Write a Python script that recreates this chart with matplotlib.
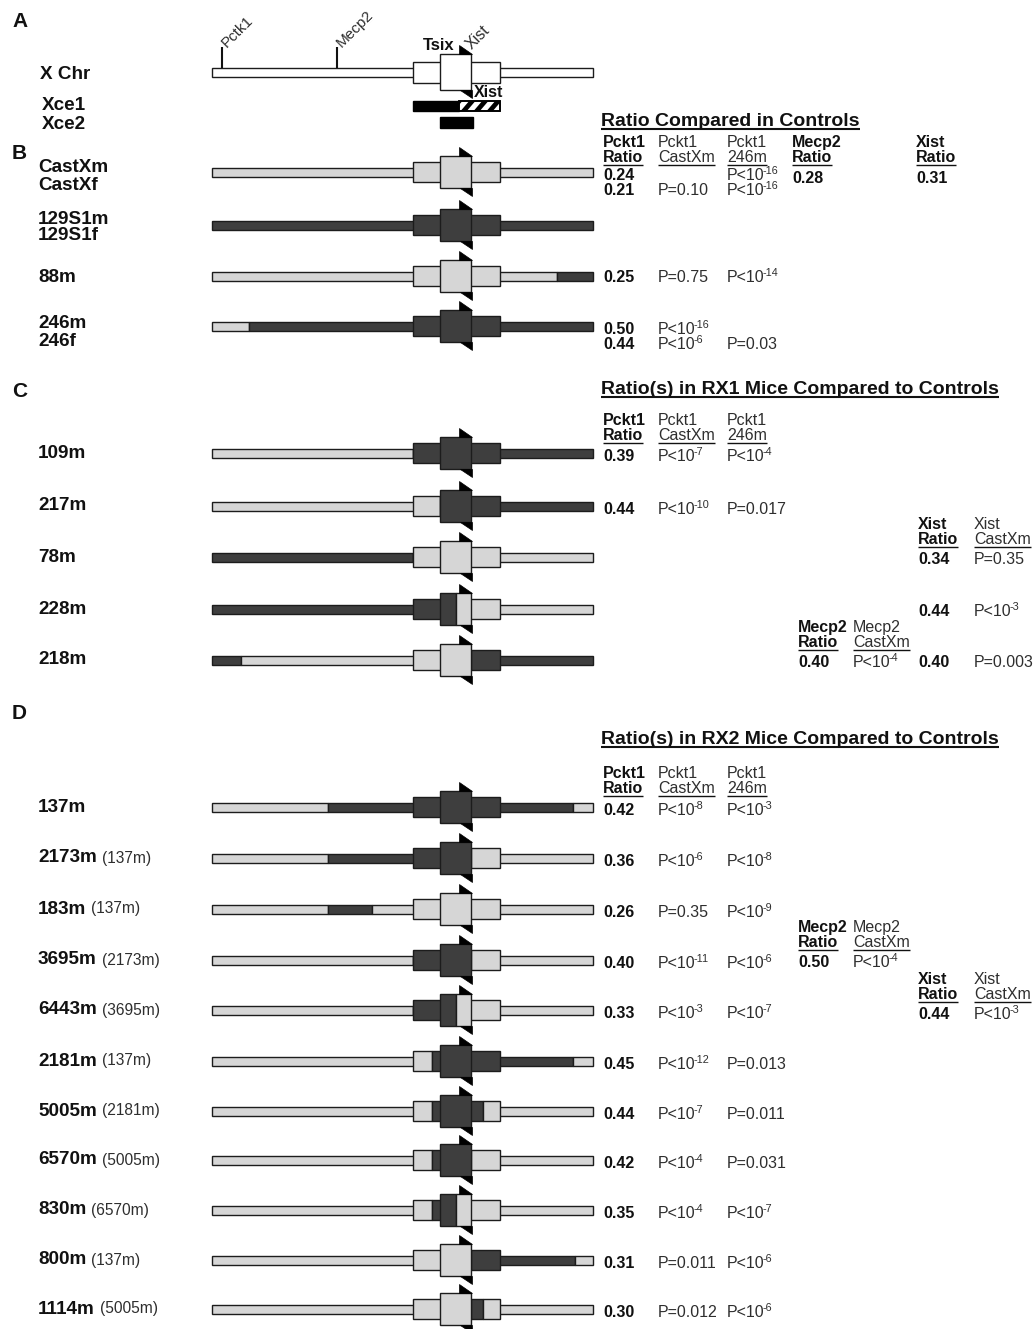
import matplotlib.pyplot as plt
from matplotlib.patches import Rectangle, Polygon

plt.rcParams['font.family'] = ['Liberation Sans', 'DejaVu Sans']

LIGHT = '#d6d6d6'   # Cast haplotype
DARK = '#3e3e3e'    # 129 haplotype
EDGE = '#1c1c1c'
INK = '#111111'
GREY = '#2e2e2e'
FILL = {'c': LIGHT, 'd': DARK, 'w': 'white'}

# chromosome drawn from x=212, positions below are offsets along it
X0 = 212
CHR_LEN = 381
OUTER = (201, 288)
INNER = (228, 259)

# ---- panel A ----
genes_a = ["Pctk1", "Mecp2"]
gene_pos = [10, 125]
xce1_solid = (201, 247)
xce1_hatched = (247, 288)
xce2_solid = (228, 261)

# ---- panel B: controls ----
ctrl_lines = [["CastXm", "CastXf"], ["129S1m", "129S1f"], ["88m"], ["246m", "246f"]]
ctrl_haplo = [
    [(381, 'c')],
    [(381, 'd')],
    [(345, 'c'), (381, 'd')],
    [(37, 'c'), (381, 'd')],
]
ctrl_pckt1_ratio = [["0.24", "0.21"], [], ["0.25"], ["0.50", "0.44"]]
ctrl_pckt1_cast = [["", "P=0.10"], [], ["P=0.75"], ["P<10^-16", "P<10^-6"]]
ctrl_pckt1_246 = [["P<10^-16", "P<10^-16"], [], ["P<10^-14"], ["", "P=0.03"]]
ctrl_mecp2_ratio = ["0.28", "", "", ""]
ctrl_xist_ratio = ["0.31", "", "", ""]

# ---- panel C: RX1 ----
rx1_names = ["109m", "217m", "78m", "228m", "218m"]
rx1_haplo = [
    [(201, 'c'), (381, 'd')],
    [(228, 'c'), (381, 'd')],
    [(201, 'd'), (381, 'c')],
    [(244, 'd'), (381, 'c')],
    [(29, 'd'), (259, 'c'), (381, 'd')],
]
rx1_pckt1_ratio = ["0.39", "0.44", "", "", ""]
rx1_pckt1_cast = ["P<10^-7", "P<10^-10", "", "", ""]
rx1_pckt1_246 = ["P<10^-4", "P=0.017", "", "", ""]
rx1_mecp2_ratio = ["", "", "", "", "0.40"]
rx1_mecp2_cast = ["", "", "", "", "P<10^-4"]
rx1_xist_ratio = ["", "", "0.34", "0.44", "0.40"]
rx1_xist_cast = ["", "", "P=0.35", "P<10^-3", "P=0.003"]

# ---- panel D: RX2 ----
rx2_names = ["137m", "2173m", "183m", "3695m", "6443m", "2181m",
             "5005m", "6570m", "830m", "800m", "1114m"]
rx2_parents = ["", "137m", "137m", "2173m", "3695m", "137m",
               "2181m", "5005m", "6570m", "137m", "5005m"]
rx2_haplo = [
    [(116, 'c'), (361, 'd'), (381, 'c')],
    [(116, 'c'), (259, 'd'), (381, 'c')],
    [(116, 'c'), (160, 'd'), (381, 'c')],
    [(201, 'c'), (259, 'd'), (381, 'c')],
    [(201, 'c'), (244, 'd'), (381, 'c')],
    [(220, 'c'), (361, 'd'), (381, 'c')],
    [(220, 'c'), (271, 'd'), (381, 'c')],
    [(220, 'c'), (259, 'd'), (381, 'c')],
    [(220, 'c'), (244, 'd'), (381, 'c')],
    [(259, 'c'), (363, 'd'), (381, 'c')],
    [(259, 'c'), (271, 'd'), (381, 'c')],
]
rx2_pckt1_ratio = ["0.42", "0.36", "0.26", "0.40", "0.33", "0.45",
                   "0.44", "0.42", "0.35", "0.31", "0.30"]
rx2_pckt1_cast = ["P<10^-8", "P<10^-6", "P=0.35", "P<10^-11", "P<10^-3", "P<10^-12",
                  "P<10^-7", "P<10^-4", "P<10^-4", "P=0.011", "P=0.012"]
rx2_pckt1_246 = ["P<10^-3", "P<10^-8", "P<10^-9", "P<10^-6", "P<10^-7", "P=0.013",
                 "P=0.011", "P=0.031", "P<10^-7", "P<10^-6", "P<10^-6"]
rx2_mecp2_ratio = ["", "", "", "0.50", "", "", "", "", "", "", ""]
rx2_mecp2_cast = ["", "", "", "P<10^-4", "", "", "", "", "", "", ""]
rx2_xist_ratio = ["", "", "", "", "0.44", "", "", "", "", "", ""]
rx2_xist_cast = ["", "", "", "", "P<10^-3", "", "", "", "", "", ""]

# row positions
ctrl_y = [172, 225, 276, 326]
ctrl_line_dy = [[-5, 14], [-5, 10], [1], [-2, 15]]
rx1_y = [453, 506, 557, 609, 660]
rx2_y = [807, 858, 909, 960, 1010, 1061, 1111, 1160, 1210, 1260, 1309]

fig = plt.figure(figsize=(10.34, 13.29), dpi=100)
ax = fig.add_axes([0, 0, 1, 1])
ax.set_xlim(0, 1034)
ax.set_ylim(1329, 0)
ax.axis('off')

TS = 11.5      # table text size
LS = 13.6      # row label size
underlined = []


def txt(x, y, s, size=TS, bold=False, ul=False, color=None, **kw):
    kw.setdefault('va', 'baseline')
    t = ax.text(x, y, s, fontsize=size, fontweight='bold' if bold else 'normal',
                color=color or (INK if bold else GREY), ha='left', **kw)
    if ul:
        underlined.append((t, y, 1.0 if size < 13 else 1.5))
    return t


def pval(x, y, s):
    # "P<10^-7" -> base text plus a small raised exponent
    if '^' not in s:
        return txt(x, y, s)
    base, exp = s.split('^')
    t = txt(x, y, base)
    ax.annotate(exp, xy=(1, 1), xycoords=t, xytext=(-1.2, 1.2),
                textcoords='offset points', va='top', ha='left',
                fontsize=7.8, color=GREY)
    return t


def draw_chrom(y, runs, bar_h=4.5, outer_h=10, inner_h=16):
    shapes = [((0, CHR_LEN), bar_h, 2), (OUTER, outer_h, 3), (INNER, inner_h, 4)]
    for (s0, s1), hh, z in shapes:
        start = 0
        for end, key in runs:
            a, b = max(start, s0), min(end, s1)
            if b > a:
                ax.add_patch(Rectangle((X0 + a, y - hh), b - a, 2 * hh, fc=FILL[key],
                                       ec=EDGE, lw=1.0, zorder=z))
            start = end
    xr = X0 + INNER[1]
    top, bot = y - inner_h, y + inner_h
    ax.add_patch(Polygon([(xr - 12, top - 9), (xr - 12, top), (xr + 1, top)],
                         closed=True, fc='black', ec='black', lw=0.5, zorder=5))
    ax.add_patch(Polygon([(xr - 11, bot), (xr + 1, bot), (xr + 1, bot + 8)],
                         closed=True, fc='black', ec='black', lw=0.5, zorder=5))


# panel letters
for letter, ly in zip("ABCD", [27, 159, 397, 719]):
    txt(12, ly, letter, size=15, bold=True)

# ---- A: X chromosome map ----
draw_chrom(72, [(CHR_LEN, 'w')], outer_h=10.5, inner_h=18)
for g, p in zip(genes_a, gene_pos):
    ax.plot([X0 + p, X0 + p], [67.5, 47], color=INK, lw=1.5, solid_capstyle='butt')
    ax.text(X0 + p + 5, 48, g, rotation=45, rotation_mode='anchor', ha='left',
            va='baseline', fontsize=11, color=GREY)
txt(423, 50, "Tsix", size=12, bold=True)
ax.text(472, 50, "Xist", rotation=45, rotation_mode='anchor', ha='left',
        va='baseline', fontsize=11.5, color=GREY)
txt(474, 97, "Xist", size=11.5, bold=True)

# Xce1: solid part then a striped part
ax.add_patch(Rectangle((X0 + xce1_solid[0], 101), xce1_solid[1] - xce1_solid[0], 10,
                       fc='black', ec='black', lw=1.0))
box = Rectangle((X0 + xce1_hatched[0], 101), xce1_hatched[1] - xce1_hatched[0], 10,
                fc='white', ec='black', lw=1.2, zorder=3)
ax.add_patch(box)
for sx in range(X0 + xce1_hatched[0] - 10, X0 + xce1_hatched[1] + 4, 13):
    ln, = ax.plot([sx, sx + 12], [113, 99], color='black', lw=3.4, zorder=3.5)
    ln.set_clip_path(box)
ax.add_patch(Rectangle((X0 + xce1_hatched[0], 101), xce1_hatched[1] - xce1_hatched[0], 10,
                       fc='none', ec='black', lw=1.2, zorder=4))
ax.add_patch(Rectangle((X0 + xce2_solid[0], 117), xce2_solid[1] - xce2_solid[0], 11,
                       fc='black', ec='black', lw=1.0))

txt(40, 79, "X Chr", size=LS, bold=True)
txt(42, 110, "Xce1", size=LS, bold=True)
txt(42, 129, "Xce2", size=LS, bold=True)

# column positions of the ratio tables
XP_R, XP_C, XP_246 = 603, 658, 727
XM_R, XM_C = 798, 853
XX_R, XX_C = 918, 974


def header(x, y, gene, sub, bold):
    txt(x, y, gene, bold=bold)
    txt(x, y + 15, sub, bold=bold, ul=True)


def pckt1_header(y):
    header(XP_R, y, "Pckt1", "Ratio", True)
    header(XP_C, y, "Pckt1", "CastXm", False)
    header(XP_246, y, "Pckt1", "246m", False)


# ---- B: controls ----
txt(601, 126, "Ratio Compared in Controls", size=14, bold=True, ul=True)
pckt1_header(147)
header(792, 147, "Mecp2", "Ratio", True)
header(916, 147, "Xist", "Ratio", True)

for i, y in enumerate(ctrl_y):
    draw_chrom(y, ctrl_haplo[i])
    for name, dy in zip(ctrl_lines[i], ctrl_line_dy[i]):
        txt(38, y + dy, name, size=LS, bold=True, va='center')
    n = len(ctrl_pckt1_ratio[i])
    for k in range(n):
        yb = y + (6 if n == 1 else 8 + 15 * k)
        txt(XP_R, yb, ctrl_pckt1_ratio[i][k], bold=True)
        pval(XP_C, yb, ctrl_pckt1_cast[i][k])
        pval(XP_246, yb, ctrl_pckt1_246[i][k])
    txt(792, y + 11, ctrl_mecp2_ratio[i], bold=True)
    txt(916, y + 11, ctrl_xist_ratio[i], bold=True)


def mouse_rows(ys, names, haplos, parents=None):
    for i, y in enumerate(ys):
        draw_chrom(y, haplos[i])
        lab = txt(38, y, names[i], size=LS, bold=True, va='center')
        if parents and parents[i]:
            ax.annotate("(" + parents[i] + ")", xy=(1, 0.5), xycoords=lab,
                        xytext=(3.5, 0), textcoords='offset points', va='center',
                        fontsize=11.2, color=GREY)


def ratio_cols(ys, x_r, x_p, ratios, pvals, gene, dy=7):
    first = True
    for y, r, p in zip(ys, ratios, pvals):
        if not r:
            continue
        if first:
            header(x_r, y + dy - 35, gene, "Ratio", True)
            header(x_p, y + dy - 35, gene, "CastXm", False)
            first = False
        txt(x_r, y + dy, r, bold=True)
        pval(x_p, y + dy, p)


# ---- C: RX1 ----
txt(601, 394, "Ratio(s) in RX1 Mice Compared to Controls", size=14, bold=True, ul=True)
mouse_rows(rx1_y, rx1_names, rx1_haplo)
pckt1_header(425)
for y, r, pc, p2 in zip(rx1_y, rx1_pckt1_ratio, rx1_pckt1_cast, rx1_pckt1_246):
    if r:
        txt(XP_R, y + 8, r, bold=True)
        pval(XP_C, y + 8, pc)
        pval(XP_246, y + 8, p2)
ratio_cols(rx1_y, XM_R, XM_C, rx1_mecp2_ratio, rx1_mecp2_cast, "Mecp2")
ratio_cols(rx1_y, XX_R, XX_C, rx1_xist_ratio, rx1_xist_cast, "Xist")

# ---- D: RX2 ----
txt(601, 744, "Ratio(s) in RX2 Mice Compared to Controls", size=14, bold=True, ul=True)
mouse_rows(rx2_y, rx2_names, rx2_haplo, rx2_parents)
pckt1_header(778)
for y, r, pc, p2 in zip(rx2_y, rx2_pckt1_ratio, rx2_pckt1_cast, rx2_pckt1_246):
    txt(XP_R, y + 8, r, bold=True)
    pval(XP_C, y + 8, pc)
    pval(XP_246, y + 8, p2)
ratio_cols(rx2_y, XM_R, XM_C, rx2_mecp2_ratio, rx2_mecp2_cast, "Mecp2")
ratio_cols(rx2_y, XX_R, XX_C, rx2_xist_ratio, rx2_xist_cast, "Xist", dy=9)

# underline headers now that text extents are known
fig.canvas.draw()
inv = ax.transData.inverted()
for t, yb, lw in underlined:
    bb = t.get_window_extent()
    xa = inv.transform((bb.x0, bb.y0))[0]
    xb = inv.transform((bb.x1, bb.y0))[0]
    ax.plot([xa, xb], [yb + 2.5, yb + 2.5], color=INK, lw=lw, solid_capstyle='butt')

fig.savefig("out.png", dpi=100, facecolor='white')
